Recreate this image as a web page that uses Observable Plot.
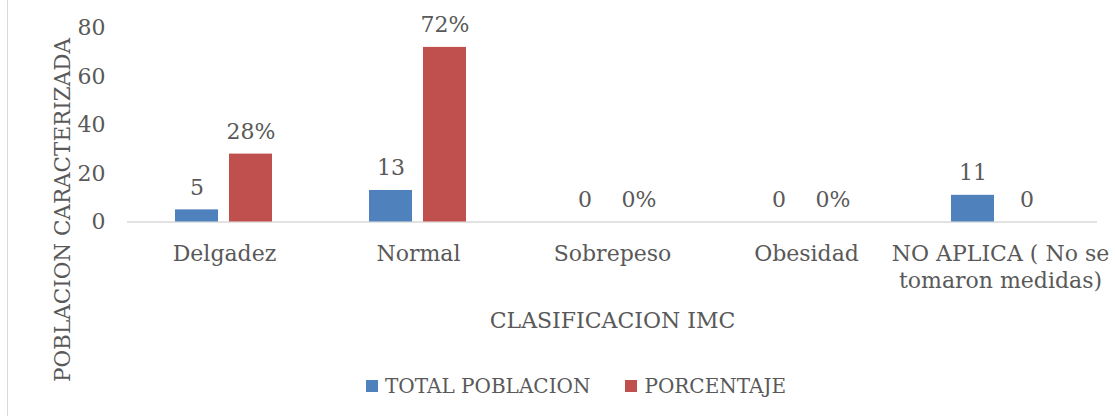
<!DOCTYPE html>
<html>
<head>
<meta charset="utf-8">
<script src="https://cdn.jsdelivr.net/npm/d3@7"></script>
<script src="https://cdn.jsdelivr.net/npm/@observablehq/plot@0.6"></script>
<style>
  html, body { margin: 0; padding: 0; background: #fff; }
  #frame { position: relative; width: 1115px; height: 419px; overflow: hidden; }
  #frame::before { content: ""; position: absolute; left: 7px; top: 0; width: 1px; height: 416px; background: #d9d9d9; }
  #chart svg { display: block; }
  .legend { display: flex; align-items: center; margin-top: 24px; padding-left: 366px;
            font-family: "DejaVu Serif", serif; font-size: 20px; color: #595959; }
  .legend .item { display: flex; align-items: center; margin-right: 35px; }
  .legend .sw { width: 12px; height: 12px; margin-right: 7px; }
  .ytitle { position: absolute; left: 62px; top: 210px; transform: translate(-50%, -50%) rotate(-90deg);
            white-space: nowrap; font-family: "DejaVu Serif", serif; font-size: 21.5px; color: #595959; }
</style>
</head>
<body>
<div id="frame">
  <div id="chart"></div>
  <div class="legend" id="legend"></div>
  <div class="ytitle" id="ytitle"></div>
</div>
<script>
const categories = ["Delgadez", "Normal", "Sobrepeso", "Obesidad", "NO APLICA ( No se tomaron medidas)"];
const categoryLabels = ["Delgadez", "Normal", "Sobrepeso", "Obesidad", "NO APLICA ( No se\ntomaron medidas)"];
const seriesNames = ["TOTAL POBLACION", "PORCENTAJE"];
const totalPoblacion = [5, 13, 0, 0, 11];
const porcentaje = [28, 72, 0, 0, 0];
const totalLabels = ["5", "13", "0", "0", "11"];
const porcentajeLabels = ["28%", "72%", "0%", "0%", "0"];
const yTicks = [0, 20, 40, 60, 80];
const yTitle = "POBLACION CARACTERIZADA";
const xTitle = "CLASIFICACION IMC";

const colors = ["#4F81BD", "#C0504D"];
const textColor = "#595959";
const font = "DejaVu Serif, serif";

const rows = [];
categories.forEach((c, i) => {
  rows.push({cat: c, series: seriesNames[0], value: totalPoblacion[i], label: totalLabels[i]});
  rows.push({cat: c, series: seriesNames[1], value: porcentaje[i], label: porcentajeLabels[i]});
});
const catLabel = new Map(categories.map((c, i) => [c, categoryLabels[i]]));

const chart = Plot.plot({
  width: 1115,
  height: 350,
  marginTop: 27.5,
  marginBottom: 128.5,
  marginLeft: 127,
  marginRight: 18,
  style: {fontFamily: font, fontSize: "22px", color: textColor, background: "transparent"},
  fx: {domain: categories, padding: 0},
  x: {domain: seriesNames, paddingInner: 0.2, paddingOuter: 0.864, axis: null},
  y: {domain: [0, 80], ticks: yTicks},
  color: {domain: seriesNames, range: colors},
  marks: [
    Plot.axisY({ticks: yTicks, tickSize: 0, tickPadding: 22, fill: textColor, fontSize: 22, label: null}),
    Plot.axisFx({anchor: "bottom", tickSize: 0, tickPadding: 19, fill: textColor, fontSize: 22,
      tickFormat: d => catLabel.get(d), lineHeight: 1.25,
      label: xTitle, labelAnchor: "center", labelArrow: "none", labelOffset: 106}),
    Plot.ruleY([0], {stroke: "#d9d9d9", strokeWidth: 1.5}),
    Plot.barY(rows, {fx: "cat", x: "series", y: "value", fill: "series"}),
    Plot.text(rows, {fx: "cat", x: "series", y: "value", text: "label", lineAnchor: "bottom",
      dy: -15, fill: textColor, fontSize: 22})
  ]
});
document.getElementById("chart").appendChild(chart);
document.getElementById("ytitle").textContent = yTitle;

const legend = document.getElementById("legend");
seriesNames.forEach((s, i) => {
  const item = document.createElement("div");
  item.className = "item";
  const sw = document.createElement("div");
  sw.className = "sw";
  sw.style.background = colors[i];
  const t = document.createElement("span");
  t.textContent = s;
  item.appendChild(sw);
  item.appendChild(t);
  legend.appendChild(item);
});
</script>
</body>
</html>
